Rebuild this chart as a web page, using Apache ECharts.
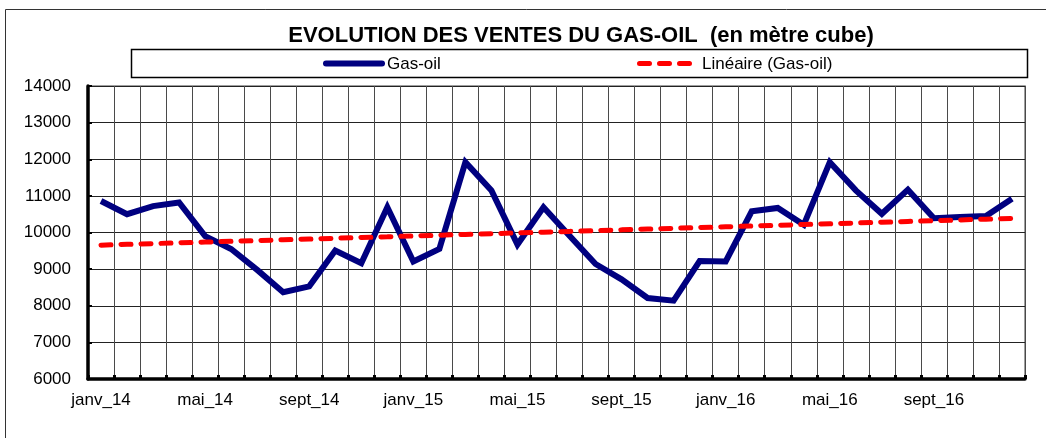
<!DOCTYPE html>
<html>
<head>
<meta charset="utf-8">
<script src="https://cdn.jsdelivr.net/npm/echarts@6/dist/echarts.min.js"></script>
<style>
  html, body { margin: 0; padding: 0; background: #fff; }
  #chart { width: 1046px; height: 438px; }
</style>
</head>
<body>
<div id="chart"></div>
<script>
// Monthly categories, January 2014 to December 2016
const months = [
  'janv_14','févr_14','mars_14','avr_14','mai_14','juin_14','juil_14','août_14','sept_14','oct_14','nov_14','déc_14',
  'janv_15','févr_15','mars_15','avr_15','mai_15','juin_15','juil_15','août_15','sept_15','oct_15','nov_15','déc_15',
  'janv_16','févr_16','mars_16','avr_16','mai_16','juin_16','juil_16','août_16','sept_16','oct_16','nov_16','déc_16'
];

// Monthly gas-oil sales (m³)
const gasoil = [
  10860, 10500, 10720, 10820, 9900, 9550, 8980, 8370, 8530, 9510, 9160, 10690,
  9210, 9550, 11920, 11150, 9670, 10690, 9910, 9140, 8720, 8210, 8140, 9220,
  9210, 10580, 10670, 10210, 11920, 11150, 10510, 11170, 10390, 10420, 10450, 10920
];

const yTicks = [6000, 7000, 8000, 9000, 10000, 11000, 12000, 13000, 14000];

const seriesNames = ['Gas-oil', 'Linéaire (Gas-oil)'];

// Least-squares linear trend of the monthly series
function linearTrend(values) {
  const n = values.length;
  let sx = 0, sy = 0, sxx = 0, sxy = 0;
  values.forEach((v, i) => { const x = i + 1; sx += x; sy += v; sxx += x * x; sxy += x * v; });
  const b = (n * sxy - sx * sy) / (n * sxx - sx * sx);
  const a = (sy - b * sx) / n;
  return values.map((_, i) => +(a + b * (i + 1)).toFixed(1));
}
const trend = linearTrend(gasoil);

const FONT = '"Liberation Sans", Arial, sans-serif';
const NAVY = '#000080';
const RED = '#ff0000';
const chart = echarts.init(document.getElementById('chart'), null, { renderer: 'canvas' });

chart.setOption({
  animation: false,
  backgroundColor: '#fff',
  graphic: [
    // chart frame
    { type: 'rect', silent: true, z: -1,
      shape: { x: 5.5, y: 9.5, width: 1100, height: 600 },
      style: { fill: 'none', stroke: '#333', lineWidth: 1 } },
    // title
    { type: 'text', silent: true, x: 581, y: 35.5,
      style: { text: 'EVOLUTION DES VENTES DU GAS-OIL  (en mètre cube)', align: 'center', verticalAlign: 'middle',
               font: 'bold 22px ' + FONT, fill: '#000' } },
    // legend box
    { type: 'rect', silent: true,
      shape: { x: 131.5, y: 49.5, width: 896, height: 28 },
      style: { fill: '#fff', stroke: '#000', lineWidth: 1.5 } },
    { type: 'line', silent: true,
      shape: { x1: 326, y1: 63.5, x2: 382, y2: 63.5 },
      style: { stroke: NAVY, lineWidth: 6, lineCap: 'round' } },
    { type: 'text', silent: true, x: 387, y: 64,
      style: { text: seriesNames[0], verticalAlign: 'middle', font: '17px ' + FONT, fill: '#000' } },
    { type: 'line', silent: true,
      shape: { x1: 639.5, y1: 63.5, x2: 690, y2: 63.5 },
      style: { stroke: RED, lineWidth: 5, lineCap: 'round', lineDash: [10, 10] } },
    { type: 'text', silent: true, x: 702, y: 64,
      style: { text: seriesNames[1], verticalAlign: 'middle', font: '17px ' + FONT, fill: '#000' } }
  ],
  grid: { left: 88, right: 21, top: 86, bottom: 59, show: true, borderColor: '#808080', borderWidth: 1.5 },
  xAxis: {
    type: 'category',
    data: months,
    boundaryGap: true,
    axisLine: { show: true, lineStyle: { color: '#000', width: 3.5 } },
    axisTick: { show: true, inside: true, length: 4, interval: 0, lineStyle: { color: '#000', width: 3 } },
    axisLabel: { interval: 3, margin: 13, fontFamily: FONT, fontSize: 17, color: '#000' },
    splitLine: { show: true, interval: 0, lineStyle: { color: '#4a4a4a', width: 1 } }
  },
  yAxis: {
    type: 'value',
    min: yTicks[0], max: yTicks[yTicks.length - 1], interval: 1000,
    axisLine: { show: true, lineStyle: { color: '#000', width: 3.5 } },
    axisTick: { show: true, inside: true, length: 4, lineStyle: { color: '#000', width: 2 } },
    axisLabel: { margin: 17, fontFamily: FONT, fontSize: 17, color: '#000', formatter: v => String(v) },
    splitLine: { show: true, lineStyle: { color: '#222', width: 1 } }
  },
  series: [
    { name: seriesNames[0], type: 'line', data: gasoil, symbol: 'none', z: 3,
      lineStyle: { color: NAVY, width: 6, join: 'miter' }, itemStyle: { color: NAVY } },
    { name: seriesNames[1], type: 'line', data: trend, symbol: 'none', z: 4,
      lineStyle: { color: RED, width: 5, type: [10, 10], cap: 'round' }, itemStyle: { color: RED } }
  ]
});
</script>
</body>
</html>
